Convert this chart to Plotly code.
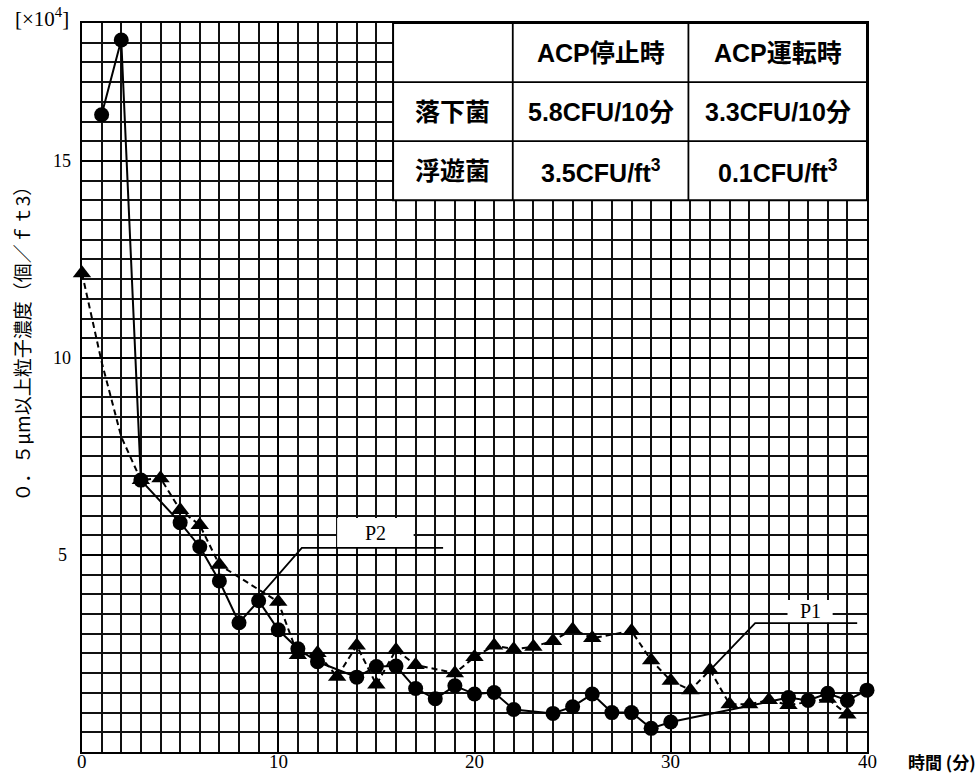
import plotly.graph_objects as go

# Particle concentration (x10^4 per ft3) over time (minutes)
p2_minutes = [1, 2, 3, 5, 6, 7, 8, 9, 10, 11, 12, 14, 15, 16, 17, 18, 19, 20,
              21, 22, 24, 25, 26, 27, 28, 29, 30, 36, 37, 38, 39, 40]
p2_values = [16.17, 18.07, 6.9, 5.82, 5.21, 4.34, 3.28, 3.84, 3.10, 2.62, 2.29,
             1.90, 2.17, 2.18, 1.61, 1.35, 1.68, 1.47, 1.51, 1.08, 0.98, 1.15,
             1.47, 1.0, 1.0, 0.6, 0.76, 1.38, 1.31, 1.49, 1.31, 1.57]

p1_minutes = [0, 1, 2, 3, 4, 5, 6, 7, 10, 11, 12, 13, 14, 15, 16, 17, 19, 20,
              21, 22, 23, 24, 25, 26, 28, 29, 30, 31, 32, 33, 34, 35, 36, 38, 39]
p1_values = [12.15, 9.9, 8.0, 6.9, 6.95, 6.14, 5.76, 4.75, 3.81, 2.46, 2.51,
             1.91, 2.70, 1.71, 2.59, 2.21, 2.0, 2.41, 2.70, 2.61, 2.67, 2.82,
             3.11, 2.89, 3.07, 2.33, 1.81, 1.57, 2.08, 1.21, 1.21, 1.32, 1.19,
             1.35, 0.95]
p1_hidden = [1, 2]  # readings drawn as line only, no marker

x_ticks = [0, 10, 20, 30, 40]
y_ticks = [5, 10, 15]

table_cols = ["", "ACP停止時", "ACP運転時"]
table_rows = [["落下菌", "5.8CFU/10分", "3.3CFU/10分"],
              ["浮遊菌", "3.5CFU/ft<sup>3</sup>", "0.1CFU/ft<sup>3</sup>"]]
table_x_edges = [15.85, 21.95, 30.9, 40.0]
table_y_edges = [18.5, 17.0, 15.5, 14.0]

SERIF = "Liberation Serif, DejaVu Serif, serif"
SANS = "Liberation Sans, Noto Sans CJK JP, sans-serif"
CJK = "Noto Sans CJK JP, sans-serif"

fig = go.Figure()

fig.add_trace(go.Scatter(
    x=p1_minutes, y=p1_values, mode="lines+markers", name="P1",
    line=dict(color="black", width=2, dash="6px,4px"),
    marker=dict(symbol="triangle-up", color="black", opacity=1,
                size=[0 if m in p1_hidden else 16 for m in p1_minutes],
                line=dict(width=0)),
    cliponaxis=False,
))
fig.add_trace(go.Scatter(
    x=p2_minutes, y=p2_values, mode="lines+markers", name="P2",
    line=dict(color="black", width=2),
    marker=dict(symbol="circle", color="black", size=15, opacity=1),
    cliponaxis=False,
))

shapes = []
# table background and ruling
shapes.append(dict(type="rect", xref="x", yref="y",
                   x0=table_x_edges[0], x1=table_x_edges[-1],
                   y0=table_y_edges[-1], y1=table_y_edges[0],
                   fillcolor="white", line=dict(color="black", width=2),
                   layer="above"))
for xe in table_x_edges[1:-1]:
    shapes.append(dict(type="line", xref="x", yref="y", x0=xe, x1=xe,
                       y0=table_y_edges[-1], y1=table_y_edges[0],
                       line=dict(color="black", width=1.8), layer="above"))
for ye in table_y_edges[1:-1]:
    shapes.append(dict(type="line", xref="x", yref="y",
                       x0=table_x_edges[0], x1=table_x_edges[-1], y0=ye, y1=ye,
                       line=dict(color="black", width=1.8), layer="above"))

# series labels with leader lines
leaders = [
    dict(text="P2", path=[(9.1, 3.98), (11.2, 5.18), (18.4, 5.18)],
         box=(13.0, 16.9, 5.2, 5.94)),
    dict(text="P1", path=[(32.1, 2.13), (34.3, 3.27), (39.5, 3.27)],
         box=(35.95, 38.25, 3.28, 3.86)),
]
annotations = []
for ld in leaders:
    bx0, bx1, by0, by1 = ld["box"]
    shapes.append(dict(type="rect", xref="x", yref="y", x0=bx0, x1=bx1,
                       y0=by0, y1=by1, fillcolor="white",
                       line=dict(width=0), layer="above"))
    d = "M " + " L ".join(f"{px},{py}" for px, py in ld["path"])
    shapes.append(dict(type="path", xref="x", yref="y", path=d,
                       line=dict(color="black", width=1.8), layer="above"))
    annotations.append(dict(x=(bx0 + bx1) / 2, y=(by0 + by1) / 2,
                            xref="x", yref="y", text=ld["text"],
                            showarrow=False,
                            font=dict(family=SERIF, size=20, color="black")))

# table text
col_centers = [(table_x_edges[i] + table_x_edges[i + 1]) / 2 for i in range(3)]
row_centers = [(table_y_edges[i] + table_y_edges[i + 1]) / 2 for i in range(3)]
table_font = dict(family=SANS, size=25, color="black", weight="bold")
for ci, txt in enumerate(table_cols):
    if txt:
        annotations.append(dict(x=col_centers[ci], y=row_centers[0],
                                xref="x", yref="y", text=txt, showarrow=False,
                                font=table_font))
for ri, row in enumerate(table_rows):
    for ci, txt in enumerate(row):
        annotations.append(dict(x=col_centers[ci], y=row_centers[ri + 1],
                                xref="x", yref="y", text=txt, showarrow=False,
                                font=table_font))

# tick labels
for v in x_ticks:
    annotations.append(dict(x=v, y=0, xref="x", yref="y", text=str(v),
                            showarrow=False, yanchor="middle", yshift=-9,
                            font=dict(family=SERIF, size=19, color="black")))
for v in y_ticks:
    annotations.append(dict(x=0, y=v, xref="x", yref="y", text=str(v),
                            showarrow=False, xanchor="center", xshift=-20,
                            font=dict(family=SERIF, size=18, color="black")))

annotations.append(dict(x=0, y=18.5, xref="x", yref="y",
                        text="[×10<sup>4</sup>]", showarrow=False,
                        xanchor="center", yanchor="middle", xshift=-40, yshift=6,
                        font=dict(family=SERIF, size=21, color="black")))
annotations.append(dict(x=40, y=0, xref="x", yref="y", text="時間 (分)",
                        showarrow=False, xanchor="center", yanchor="middle",
                        xshift=75, yshift=-9,
                        font=dict(family=CJK, size=17, color="black",
                                  weight="bold")))
annotations.append(dict(x=0, y=10.46, xref="x", yref="y",
                        text="０．５μm以上粒子濃度（個／ｆｔ3）",
                        showarrow=False, textangle=-90, xanchor="center",
                        yanchor="middle", xshift=-60,
                        font=dict(family=CJK, size=19, color="black")))

fig.update_layout(
    width=978, height=774,
    margin=dict(l=82, r=111, t=23, b=22),
    plot_bgcolor="white", paper_bgcolor="white",
    showlegend=False,
    shapes=shapes, annotations=annotations,
    xaxis=dict(range=[0, 40], tick0=0, dtick=10, showgrid=True,
               gridcolor="black", gridwidth=2.2,
               minor=dict(tick0=0, dtick=1, showgrid=True,
                          gridcolor="#111111", gridwidth=1.7),
               showline=True, linecolor="black", linewidth=2.2, mirror=True,
               showticklabels=False, ticks="", zeroline=False),
    yaxis=dict(range=[0, 18.5], tick0=0, dtick=5, showgrid=True,
               gridcolor="black", gridwidth=2.2,
               minor=dict(tick0=0, dtick=0.5, showgrid=True,
                          gridcolor="#111111", gridwidth=1.7),
               showline=True, linecolor="black", linewidth=2.2, mirror=True,
               showticklabels=False, ticks="", zeroline=False),
)

fig.write_html("out.html")
